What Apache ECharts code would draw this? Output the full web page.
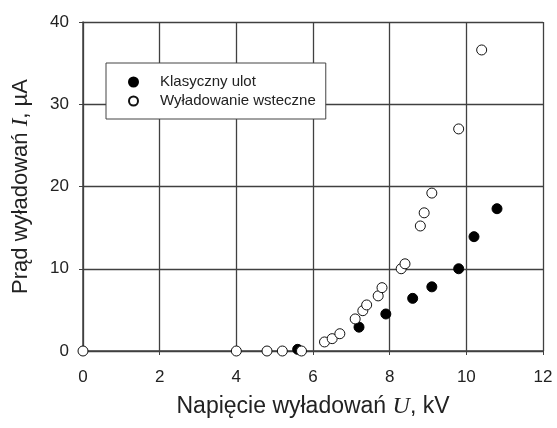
<!DOCTYPE html>
<html>
<head>
<meta charset="utf-8">
<script src="https://cdn.jsdelivr.net/npm/echarts@6/dist/echarts.min.js"></script>
<style>html,body{margin:0;padding:0;background:#fff;}#c{width:557px;height:428px;}</style>
</head>
<body>
<div id="c"></div>
<script>
var classicU = [5.6, 7.2, 7.9, 8.6, 9.1, 9.8, 10.2, 10.8];
var classicI = [0.2, 2.9, 4.5, 6.4, 7.8, 10.0, 13.9, 17.3];
var backU = [0, 4.0, 4.8, 5.2, 5.7, 6.3, 6.5, 6.7, 7.1, 7.3, 7.4, 7.7, 7.8, 8.3, 8.4, 8.8, 8.9, 9.1, 9.8, 10.4];
var backI = [0, 0, 0, 0, 0, 1.1, 1.5, 2.1, 3.9, 4.9, 5.6, 6.7, 7.7, 10.0, 10.6, 15.2, 16.8, 19.2, 27.0, 36.6];
var xTicks = [0, 2, 4, 6, 8, 10, 12];
var yTicks = [0, 10, 20, 30, 40];
var seriesNames = ['Klasyczny ulot', 'Wyładowanie wsteczne'];

function pairs(a, b) { return a.map(function (v, i) { return [v, b[i]]; }); }

var chart = echarts.init(document.getElementById('c'), null, {renderer: 'canvas'});
var font = 'Liberation Sans, Arial, sans-serif';
var lineCol = '#404040';
chart.setOption({
  animation: false,
  backgroundColor: '#fff',
  textStyle: {fontFamily: font, color: '#222'},
  grid: {left: 83, right: 14, top: 22, bottom: 77, containLabel: false},
  legend: {
    left: 106, top: 63,
    orient: 'vertical',
    backgroundColor: '#fff',
    borderColor: '#444', borderWidth: 1,
    padding: [10, 10, 9, 22],
    itemWidth: 9, itemHeight: 9, itemGap: 1,
    textStyle: {fontSize: 15, lineHeight: 18, fontFamily: font, color: '#222', padding: [0, 0, 0, 17]},
    data: [
      {name: seriesNames[0], icon: 'circle'},
      {name: seriesNames[1], icon: 'circle'}
    ]
  },
  xAxis: {
    type: 'value', min: xTicks[0], max: xTicks[xTicks.length - 1], interval: 2,
    name: 'Napięcie wyładowań {i|U}, kV',
    nameLocation: 'middle', nameGap: 44,
    nameTextStyle: {fontSize: 23, fontFamily: font, color: '#222',
      rich: {i: {fontStyle: 'italic', fontFamily: 'Liberation Serif, serif', fontSize: 24, color: '#222'}}},
    axisLine: {show: true, onZero: false, lineStyle: {color: lineCol, width: 1.5}},
    axisTick: {show: true, inside: false, length: 4, lineStyle: {color: lineCol, width: 1}},
    axisLabel: {fontSize: 17, margin: 18, color: '#222', fontFamily: font},
    splitLine: {show: true, lineStyle: {color: lineCol, width: 1.3}}
  },
  yAxis: {
    type: 'value', min: yTicks[0], max: yTicks[yTicks.length - 1], interval: 10,
    name: 'Prąd wyładowań {i|I}, µA',
    nameLocation: 'middle', nameGap: 51, nameRotate: 90,
    nameTextStyle: {fontSize: 22, fontFamily: font, color: '#222',
      rich: {i: {fontStyle: 'italic', fontFamily: 'Liberation Serif, serif', fontSize: 23, color: '#222'}}},
    axisLine: {show: true, onZero: false, lineStyle: {color: lineCol, width: 1.5}},
    axisTick: {show: true, inside: false, length: 4, lineStyle: {color: lineCol, width: 1}},
    axisLabel: {fontSize: 17, margin: 14, color: '#222', fontFamily: font},
    splitLine: {show: true, lineStyle: {color: lineCol, width: 1.3}}
  },
  series: [
    {
      name: seriesNames[1], type: 'scatter', symbol: 'circle', symbolSize: 10,
      itemStyle: {color: '#fff', borderColor: '#111', borderWidth: 1, opacity: 1},
      data: pairs(backU, backI), z: 3
    },
    {
      name: seriesNames[0], type: 'scatter', symbol: 'circle', symbolSize: 10,
      itemStyle: {color: '#000', borderColor: '#000', borderWidth: 1, opacity: 1},
      data: pairs(classicU, classicI), z: 2
    }
  ]
});
</script>
</body>
</html>
